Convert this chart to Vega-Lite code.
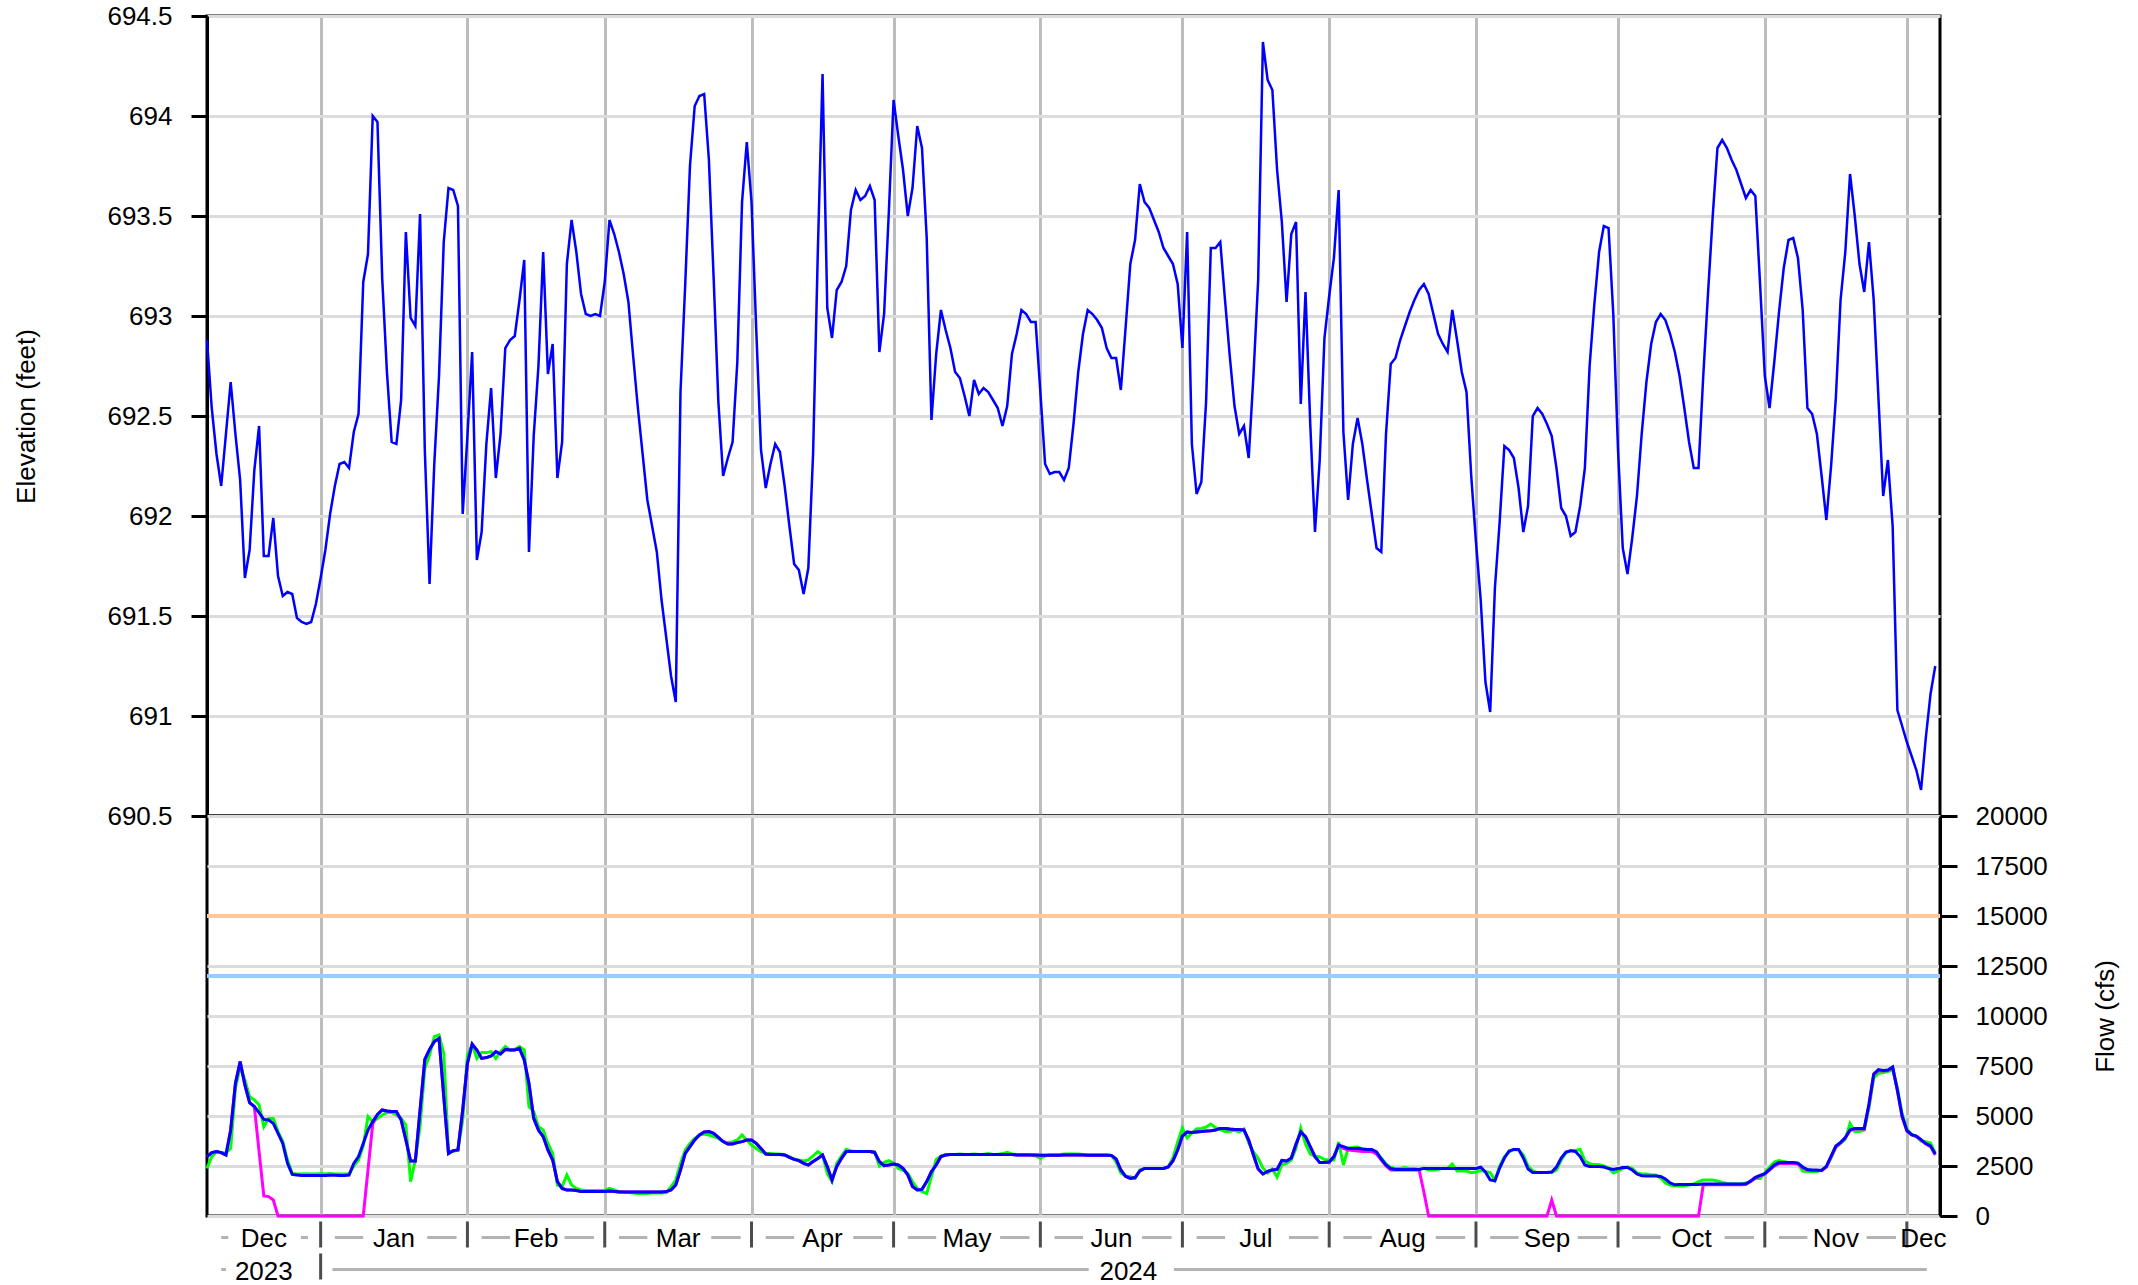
{
"$schema": "https://vega.github.io/schema/vega-lite/v6.json",
"background": "white",
"padding": {"left": 12, "top": 1, "right": 19, "bottom": 0},
"spacing": 0,
"bounds": "flush",
"config": {
  "font": "Liberation Sans",
  "view": {"stroke": "black", "strokeWidth": 3},
  "axis": {"labelFont": "Liberation Sans", "labelFontSize": 26, "labelColor": "black", "titleFont": "Liberation Sans", "titleFontSize": 26, "titleFontWeight": "normal", "titleColor": "black", "domainColor": "black", "tickColor": "black", "labelFlush": false, "labelOverlap": false, "labelBound": false}
},
"datasets": {
"limits": [{"k":"upper","v":15000},{"k":"lower","v":12000}],
"ticks": [
{"t":"2024-01-01","row":"month"},{"t":"2024-02-01","row":"month"},{"t":"2024-03-01","row":"month"},{"t":"2024-04-01","row":"month"},{"t":"2024-05-01","row":"month"},{"t":"2024-06-01","row":"month"},{"t":"2024-07-01","row":"month"},{"t":"2024-08-01","row":"month"},{"t":"2024-09-01","row":"month"},{"t":"2024-10-01","row":"month"},{"t":"2024-11-01","row":"month"},{"t":"2024-12-01","row":"month"},{"t":"2024-01-01","row":"year"}],
"labels": [
{"mid":"2023-12-20","m":"Dec","row":"month"},
{"mid":"2024-01-16T12:00:00Z","m":"Jan","row":"month"},
{"mid":"2024-02-15T12:00:00Z","m":"Feb","row":"month"},
{"mid":"2024-03-16T12:00:00Z","m":"Mar","row":"month"},
{"mid":"2024-04-16","m":"Apr","row":"month"},
{"mid":"2024-05-16T12:00:00Z","m":"May","row":"month"},
{"mid":"2024-06-16","m":"Jun","row":"month"},
{"mid":"2024-07-16T12:00:00Z","m":"Jul","row":"month"},
{"mid":"2024-08-16T12:00:00Z","m":"Aug","row":"month"},
{"mid":"2024-09-16","m":"Sep","row":"month"},
{"mid":"2024-10-16T12:00:00Z","m":"Oct","row":"month"},
{"mid":"2024-11-16","m":"Nov","row":"month"},
{"mid":"2024-12-04T12:00:00Z","m":"Dec","row":"month"},
{"mid":"2023-12-20","m":"2023","row":"year"},
{"mid":"2024-06-19T14:00:00Z","m":"2024","row":"year"}],
"dashes": [
{"a":"2023-12-11","b":"2023-12-12T12:00:00Z","row":"month"},
{"a":"2023-12-27T20:00:00Z","b":"2023-12-29T08:00:00Z","row":"month"},
{"a":"2024-01-04","b":"2024-01-10","row":"month"},{"a":"2024-01-23T12:00:00Z","b":"2024-01-29T17:00:00Z","row":"month"},
{"a":"2024-02-04","b":"2024-02-10","row":"month"},{"a":"2024-02-21T12:00:00Z","b":"2024-02-27T17:00:00Z","row":"month"},
{"a":"2024-03-04","b":"2024-03-10","row":"month"},{"a":"2024-03-23T12:00:00Z","b":"2024-03-29T17:00:00Z","row":"month"},
{"a":"2024-04-04","b":"2024-04-10","row":"month"},{"a":"2024-04-22T12:00:00Z","b":"2024-04-28T17:00:00Z","row":"month"},
{"a":"2024-05-04","b":"2024-05-10","row":"month"},{"a":"2024-05-23T12:00:00Z","b":"2024-05-29T17:00:00Z","row":"month"},
{"a":"2024-06-04","b":"2024-06-10","row":"month"},{"a":"2024-06-22T12:00:00Z","b":"2024-06-28T17:00:00Z","row":"month"},
{"a":"2024-07-04","b":"2024-07-10","row":"month"},{"a":"2024-07-23T12:00:00Z","b":"2024-07-29T17:00:00Z","row":"month"},
{"a":"2024-08-04","b":"2024-08-10","row":"month"},{"a":"2024-08-23T12:00:00Z","b":"2024-08-29T17:00:00Z","row":"month"},
{"a":"2024-09-04","b":"2024-09-10","row":"month"},{"a":"2024-09-22T12:00:00Z","b":"2024-09-28T17:00:00Z","row":"month"},
{"a":"2024-10-04","b":"2024-10-10","row":"month"},{"a":"2024-10-23T12:00:00Z","b":"2024-10-29T17:00:00Z","row":"month"},
{"a":"2024-11-04","b":"2024-11-10","row":"month"},{"a":"2024-11-22T12:00:00Z","b":"2024-11-28T17:00:00Z","row":"month"},
{"a":"2023-12-11","b":"2023-12-12","row":"year"},
{"a":"2024-01-03T12:00:00Z","b":"2024-06-11T05:00:00Z","row":"year"},
{"a":"2024-06-29T05:00:00Z","b":"2024-12-05T05:00:00Z","row":"year"}],
"main": [
{"t":"2023-12-08","e":692.88,"g":2380,"m":2970,"b":2970},
{"t":"2023-12-09","e":692.54,"g":2970,"m":3170,"b":3170},
{"t":"2023-12-10","e":692.31,"g":3220,"m":3220,"b":3220},
{"t":"2023-12-11","e":692.15,"g":3170,"m":3170,"b":3170},
{"t":"2023-12-12","e":692.41,"g":3150,"m":3050,"b":3050},
{"t":"2023-12-13","e":692.67,"g":3380,"m":4300,"b":4300},
{"t":"2023-12-14","e":692.41,"g":6380,"m":6630,"b":6630},
{"t":"2023-12-15","e":692.18,"g":7470,"m":7720,"b":7720},
{"t":"2023-12-16","e":691.69,"g":6800,"m":6550,"b":6550},
{"t":"2023-12-17","e":691.83,"g":5970,"m":5670,"b":5670},
{"t":"2023-12-18","e":692.23,"g":5800,"m":5470,"b":5470},
{"t":"2023-12-19","e":692.45,"g":5550,"m":3220,"b":5170},
{"t":"2023-12-20","e":691.80,"g":4470,"m":1000,"b":4830},
{"t":"2023-12-21","e":691.80,"g":4880,"m":970,"b":4800},
{"t":"2023-12-22","e":691.99,"g":4880,"m":800,"b":4630},
{"t":"2023-12-23","e":691.70,"g":4220,"m":0,"b":4130},
{"t":"2023-12-24","e":691.60,"g":3720,"m":0,"b":3630},
{"t":"2023-12-25","e":691.62,"g":2800,"m":0,"b":2630},
{"t":"2023-12-26","e":691.61,"g":2130,"m":0,"b":2080},
{"t":"2023-12-27","e":691.49,"g":2100,"m":0,"b":2050},
{"t":"2023-12-28","e":691.47,"g":2100,"m":0,"b":2030},
{"t":"2023-12-29","e":691.46,"g":2110,"m":0,"b":2020},
{"t":"2023-12-30","e":691.47,"g":2100,"m":0,"b":2020},
{"t":"2023-12-31","e":691.56,"g":2100,"m":0,"b":2030},
{"t":"2024-01-01","e":691.69,"g":2120,"m":0,"b":2030},
{"t":"2024-01-02","e":691.83,"g":2100,"m":0,"b":2030},
{"t":"2024-01-03","e":692.01,"g":2130,"m":0,"b":2040},
{"t":"2024-01-04","e":692.15,"g":2100,"m":0,"b":2040},
{"t":"2024-01-05","e":692.26,"g":2100,"m":0,"b":2030},
{"t":"2024-01-06","e":692.27,"g":2100,"m":0,"b":2030},
{"t":"2024-01-07","e":692.24,"g":2100,"m":0,"b":2050},
{"t":"2024-01-08","e":692.42,"g":2500,"m":0,"b":2630},
{"t":"2024-01-09","e":692.51,"g":2800,"m":0,"b":2970},
{"t":"2024-01-10","e":693.17,"g":3500,"m":0,"b":3630},
{"t":"2024-01-11","e":693.31,"g":4970,"m":2300,"b":4300},
{"t":"2024-01-12","e":694.00,"g":4720,"m":4600,"b":4720},
{"t":"2024-01-13","e":693.97,"g":4880,"m":5080,"b":5080},
{"t":"2024-01-14","e":693.19,"g":5050,"m":5300,"b":5300},
{"t":"2024-01-15","e":692.72,"g":5170,"m":5250,"b":5250},
{"t":"2024-01-16","e":692.37,"g":5170,"m":5220,"b":5220},
{"t":"2024-01-17","e":692.36,"g":5050,"m":5220,"b":5220},
{"t":"2024-01-18","e":692.58,"g":4880,"m":4800,"b":4800},
{"t":"2024-01-19","e":693.42,"g":4550,"m":3800,"b":3800},
{"t":"2024-01-20","e":692.99,"g":1720,"m":2750,"b":2750},
{"t":"2024-01-21","e":692.95,"g":2800,"m":2750,"b":2750},
{"t":"2024-01-22","e":693.51,"g":4500,"m":5300,"b":5300},
{"t":"2024-01-23","e":692.33,"g":7380,"m":7830,"b":7830},
{"t":"2024-01-24","e":691.66,"g":8050,"m":8330,"b":8330},
{"t":"2024-01-25","e":692.26,"g":8970,"m":8720,"b":8720},
{"t":"2024-01-26","e":692.70,"g":9050,"m":8880,"b":8880},
{"t":"2024-01-27","e":693.37,"g":8130,"m":5970,"b":5970},
{"t":"2024-01-28","e":693.64,"g":3220,"m":3130,"b":3130},
{"t":"2024-01-29","e":693.63,"g":3220,"m":3270,"b":3270},
{"t":"2024-01-30","e":693.55,"g":3300,"m":3300,"b":3300},
{"t":"2024-01-31","e":692.01,"g":4800,"m":5300,"b":5300},
{"t":"2024-02-01","e":692.40,"g":8050,"m":7630,"b":7630},
{"t":"2024-02-02","e":692.82,"g":8550,"m":8600,"b":8600},
{"t":"2024-02-03","e":691.78,"g":7880,"m":8300,"b":8300},
{"t":"2024-02-04","e":691.92,"g":8170,"m":7880,"b":7880},
{"t":"2024-02-05","e":692.36,"g":8170,"m":7920,"b":7920},
{"t":"2024-02-06","e":692.64,"g":8220,"m":8000,"b":8000},
{"t":"2024-02-07","e":692.19,"g":7880,"m":8220,"b":8220},
{"t":"2024-02-08","e":692.41,"g":8220,"m":8100,"b":8100},
{"t":"2024-02-09","e":692.84,"g":8470,"m":8330,"b":8330},
{"t":"2024-02-10","e":692.88,"g":8300,"m":8300,"b":8300},
{"t":"2024-02-11","e":692.90,"g":8330,"m":8300,"b":8300},
{"t":"2024-02-12","e":693.08,"g":8470,"m":8380,"b":8380},
{"t":"2024-02-13","e":693.28,"g":8300,"m":7800,"b":7800},
{"t":"2024-02-14","e":691.82,"g":5470,"m":6630,"b":6630},
{"t":"2024-02-15","e":692.40,"g":5220,"m":4880,"b":4880},
{"t":"2024-02-16","e":692.75,"g":4470,"m":4300,"b":4300},
{"t":"2024-02-17","e":693.32,"g":4300,"m":3970,"b":3970},
{"t":"2024-02-18","e":692.71,"g":3630,"m":3300,"b":3300},
{"t":"2024-02-19","e":692.86,"g":3130,"m":2800,"b":2800},
{"t":"2024-02-20","e":692.19,"g":1550,"m":1720,"b":1720},
{"t":"2024-02-21","e":692.37,"g":1470,"m":1380,"b":1380},
{"t":"2024-02-22","e":693.26,"g":2050,"m":1300,"b":1300},
{"t":"2024-02-23","e":693.48,"g":1550,"m":1300,"b":1300},
{"t":"2024-02-24","e":693.32,"g":1380,"m":1270,"b":1270},
{"t":"2024-02-25","e":693.11,"g":1300,"m":1220,"b":1220},
{"t":"2024-02-26","e":693.01,"g":1280,"m":1220,"b":1220},
{"t":"2024-02-27","e":693.00,"g":1280,"m":1220,"b":1220},
{"t":"2024-02-28","e":693.01,"g":1280,"m":1220,"b":1220},
{"t":"2024-02-29","e":693.00,"g":1280,"m":1220,"b":1220},
{"t":"2024-03-01","e":693.17,"g":1280,"m":1220,"b":1220},
{"t":"2024-03-02","e":693.48,"g":1380,"m":1250,"b":1250},
{"t":"2024-03-03","e":693.41,"g":1300,"m":1220,"b":1220},
{"t":"2024-03-04","e":693.32,"g":1220,"m":1200,"b":1200},
{"t":"2024-03-05","e":693.21,"g":1200,"m":1200,"b":1200},
{"t":"2024-03-06","e":693.07,"g":1170,"m":1200,"b":1200},
{"t":"2024-03-07","e":692.80,"g":1150,"m":1200,"b":1200},
{"t":"2024-03-08","e":692.54,"g":1130,"m":1200,"b":1200},
{"t":"2024-03-09","e":692.31,"g":1130,"m":1200,"b":1200},
{"t":"2024-03-10","e":692.08,"g":1130,"m":1200,"b":1200},
{"t":"2024-03-11","e":691.95,"g":1150,"m":1200,"b":1200},
{"t":"2024-03-12","e":691.82,"g":1150,"m":1200,"b":1200},
{"t":"2024-03-13","e":691.58,"g":1150,"m":1200,"b":1200},
{"t":"2024-03-14","e":691.39,"g":1170,"m":1220,"b":1220},
{"t":"2024-03-15","e":691.20,"g":1470,"m":1300,"b":1300},
{"t":"2024-03-16","e":691.07,"g":1800,"m":1550,"b":1550},
{"t":"2024-03-17","e":692.62,"g":2630,"m":2300,"b":2300},
{"t":"2024-03-18","e":693.16,"g":3300,"m":3130,"b":3130},
{"t":"2024-03-19","e":693.75,"g":3630,"m":3470,"b":3470},
{"t":"2024-03-20","e":694.05,"g":3880,"m":3800,"b":3800},
{"t":"2024-03-21","e":694.10,"g":4050,"m":4050,"b":4050},
{"t":"2024-03-22","e":694.11,"g":4100,"m":4200,"b":4200},
{"t":"2024-03-23","e":693.78,"g":4050,"m":4220,"b":4220},
{"t":"2024-03-24","e":693.19,"g":3970,"m":4130,"b":4130},
{"t":"2024-03-25","e":692.57,"g":3880,"m":3930,"b":3930},
{"t":"2024-03-26","e":692.20,"g":3720,"m":3720,"b":3720},
{"t":"2024-03-27","e":692.29,"g":3670,"m":3600,"b":3600},
{"t":"2024-03-28","e":692.37,"g":3700,"m":3600,"b":3600},
{"t":"2024-03-29","e":692.77,"g":3800,"m":3670,"b":3670},
{"t":"2024-03-30","e":693.57,"g":4050,"m":3720,"b":3720},
{"t":"2024-03-31","e":693.87,"g":3800,"m":3800,"b":3800},
{"t":"2024-04-01","e":693.57,"g":3550,"m":3800,"b":3800},
{"t":"2024-04-02","e":692.93,"g":3380,"m":3630,"b":3630},
{"t":"2024-04-03","e":692.33,"g":3220,"m":3380,"b":3380},
{"t":"2024-04-04","e":692.14,"g":3130,"m":3100,"b":3100},
{"t":"2024-04-05","e":692.26,"g":3130,"m":3080,"b":3080},
{"t":"2024-04-06","e":692.36,"g":3100,"m":3080,"b":3080},
{"t":"2024-04-07","e":692.32,"g":3100,"m":3080,"b":3080},
{"t":"2024-04-08","e":692.15,"g":3050,"m":3050,"b":3050},
{"t":"2024-04-09","e":691.95,"g":2970,"m":2930,"b":2930},
{"t":"2024-04-10","e":691.76,"g":2850,"m":2830,"b":2830},
{"t":"2024-04-11","e":691.73,"g":2800,"m":2770,"b":2770},
{"t":"2024-04-12","e":691.61,"g":2750,"m":2630,"b":2630},
{"t":"2024-04-13","e":691.74,"g":2800,"m":2550,"b":2550},
{"t":"2024-04-14","e":692.31,"g":3000,"m":2720,"b":2720},
{"t":"2024-04-15","e":693.32,"g":3220,"m":2880,"b":2880},
{"t":"2024-04-16","e":694.21,"g":3050,"m":3050,"b":3050},
{"t":"2024-04-17","e":693.04,"g":2130,"m":2470,"b":2470},
{"t":"2024-04-18","e":692.89,"g":1720,"m":1800,"b":1800},
{"t":"2024-04-19","e":693.13,"g":2630,"m":2470,"b":2470},
{"t":"2024-04-20","e":693.17,"g":3000,"m":2880,"b":2880},
{"t":"2024-04-21","e":693.25,"g":3330,"m":3220,"b":3220},
{"t":"2024-04-22","e":693.53,"g":3250,"m":3220,"b":3220},
{"t":"2024-04-23","e":693.63,"g":3220,"m":3220,"b":3220},
{"t":"2024-04-24","e":693.58,"g":3220,"m":3220,"b":3220},
{"t":"2024-04-25","e":693.60,"g":3220,"m":3220,"b":3220},
{"t":"2024-04-26","e":693.65,"g":3220,"m":3220,"b":3220},
{"t":"2024-04-27","e":693.58,"g":3200,"m":3180,"b":3180},
{"t":"2024-04-28","e":692.82,"g":2500,"m":2720,"b":2720},
{"t":"2024-04-29","e":693.01,"g":2680,"m":2520,"b":2520},
{"t":"2024-04-30","e":693.52,"g":2770,"m":2550,"b":2550},
{"t":"2024-05-01","e":694.08,"g":2650,"m":2600,"b":2600},
{"t":"2024-05-02","e":693.90,"g":2380,"m":2550,"b":2550},
{"t":"2024-05-03","e":693.73,"g":2300,"m":2380,"b":2380},
{"t":"2024-05-04","e":693.50,"g":2130,"m":2050,"b":2050},
{"t":"2024-05-05","e":693.64,"g":1720,"m":1470,"b":1470},
{"t":"2024-05-06","e":693.95,"g":1380,"m":1300,"b":1300},
{"t":"2024-05-07","e":693.84,"g":1220,"m":1330,"b":1330},
{"t":"2024-05-08","e":693.39,"g":1130,"m":1720,"b":1720},
{"t":"2024-05-09","e":692.48,"g":1970,"m":2220,"b":2220},
{"t":"2024-05-10","e":692.81,"g":2830,"m":2550,"b":2550},
{"t":"2024-05-11","e":693.03,"g":3000,"m":2970,"b":2970},
{"t":"2024-05-12","e":692.93,"g":3080,"m":3050,"b":3050},
{"t":"2024-05-13","e":692.84,"g":3080,"m":3070,"b":3070},
{"t":"2024-05-14","e":692.72,"g":3080,"m":3070,"b":3070},
{"t":"2024-05-15","e":692.69,"g":3100,"m":3070,"b":3070},
{"t":"2024-05-16","e":692.60,"g":3080,"m":3070,"b":3070},
{"t":"2024-05-17","e":692.50,"g":3080,"m":3070,"b":3070},
{"t":"2024-05-18","e":692.68,"g":3100,"m":3070,"b":3070},
{"t":"2024-05-19","e":692.61,"g":3080,"m":3070,"b":3070},
{"t":"2024-05-20","e":692.64,"g":3080,"m":3070,"b":3070},
{"t":"2024-05-21","e":692.62,"g":3120,"m":3070,"b":3070},
{"t":"2024-05-22","e":692.58,"g":3080,"m":3070,"b":3070},
{"t":"2024-05-23","e":692.54,"g":3080,"m":3070,"b":3070},
{"t":"2024-05-24","e":692.45,"g":3120,"m":3070,"b":3070},
{"t":"2024-05-25","e":692.55,"g":3180,"m":3080,"b":3080},
{"t":"2024-05-26","e":692.81,"g":3100,"m":3070,"b":3070},
{"t":"2024-05-27","e":692.91,"g":3080,"m":3050,"b":3050},
{"t":"2024-05-28","e":693.03,"g":3080,"m":3050,"b":3050},
{"t":"2024-05-29","e":693.01,"g":3080,"m":3050,"b":3050},
{"t":"2024-05-30","e":692.97,"g":3050,"m":3050,"b":3050},
{"t":"2024-05-31","e":692.97,"g":3000,"m":3050,"b":3050},
{"t":"2024-06-01","e":692.62,"g":2880,"m":3040,"b":3040},
{"t":"2024-06-02","e":692.26,"g":3000,"m":3040,"b":3040},
{"t":"2024-06-03","e":692.21,"g":3060,"m":3040,"b":3040},
{"t":"2024-06-04","e":692.22,"g":3060,"m":3040,"b":3040},
{"t":"2024-06-05","e":692.22,"g":3060,"m":3040,"b":3040},
{"t":"2024-06-06","e":692.18,"g":3100,"m":3050,"b":3050},
{"t":"2024-06-07","e":692.24,"g":3100,"m":3050,"b":3050},
{"t":"2024-06-08","e":692.46,"g":3100,"m":3050,"b":3050},
{"t":"2024-06-09","e":692.72,"g":3100,"m":3050,"b":3050},
{"t":"2024-06-10","e":692.91,"g":3080,"m":3050,"b":3050},
{"t":"2024-06-11","e":693.03,"g":3060,"m":3040,"b":3040},
{"t":"2024-06-12","e":693.01,"g":3060,"m":3040,"b":3040},
{"t":"2024-06-13","e":692.98,"g":3060,"m":3040,"b":3040},
{"t":"2024-06-14","e":692.94,"g":3060,"m":3040,"b":3040},
{"t":"2024-06-15","e":692.84,"g":3060,"m":3040,"b":3040},
{"t":"2024-06-16","e":692.79,"g":3030,"m":3030,"b":3030},
{"t":"2024-06-17","e":692.79,"g":2700,"m":2850,"b":2850},
{"t":"2024-06-18","e":692.63,"g":2150,"m":2300,"b":2300},
{"t":"2024-06-19","e":692.94,"g":2000,"m":1980,"b":1980},
{"t":"2024-06-20","e":693.26,"g":1960,"m":1880,"b":1880},
{"t":"2024-06-21","e":693.38,"g":1880,"m":1920,"b":1920},
{"t":"2024-06-22","e":693.66,"g":2300,"m":2250,"b":2250},
{"t":"2024-06-23","e":693.57,"g":2380,"m":2380,"b":2380},
{"t":"2024-06-24","e":693.54,"g":2380,"m":2380,"b":2380},
{"t":"2024-06-25","e":693.48,"g":2380,"m":2380,"b":2380},
{"t":"2024-06-26","e":693.42,"g":2380,"m":2380,"b":2380},
{"t":"2024-06-27","e":693.34,"g":2380,"m":2380,"b":2380},
{"t":"2024-06-28","e":693.30,"g":2450,"m":2450,"b":2450},
{"t":"2024-06-29","e":693.26,"g":2900,"m":2750,"b":2750},
{"t":"2024-06-30","e":693.16,"g":3700,"m":3300,"b":3300},
{"t":"2024-07-01","e":692.84,"g":4400,"m":4000,"b":4000},
{"t":"2024-07-02","e":693.42,"g":3900,"m":4200,"b":4200},
{"t":"2024-07-03","e":692.36,"g":4150,"m":4170,"b":4170},
{"t":"2024-07-04","e":692.11,"g":4350,"m":4200,"b":4200},
{"t":"2024-07-05","e":692.17,"g":4380,"m":4220,"b":4220},
{"t":"2024-07-06","e":692.57,"g":4450,"m":4250,"b":4250},
{"t":"2024-07-07","e":693.34,"g":4600,"m":4260,"b":4260},
{"t":"2024-07-08","e":693.34,"g":4420,"m":4300,"b":4300},
{"t":"2024-07-09","e":693.37,"g":4320,"m":4380,"b":4380},
{"t":"2024-07-10","e":693.08,"g":4230,"m":4380,"b":4380},
{"t":"2024-07-11","e":692.80,"g":4220,"m":4350,"b":4350},
{"t":"2024-07-12","e":692.55,"g":4300,"m":4330,"b":4330},
{"t":"2024-07-13","e":692.41,"g":4200,"m":4330,"b":4330},
{"t":"2024-07-14","e":692.45,"g":4350,"m":4300,"b":4300},
{"t":"2024-07-15","e":692.29,"g":3650,"m":3800,"b":3800},
{"t":"2024-07-16","e":692.70,"g":3200,"m":3050,"b":3050},
{"t":"2024-07-17","e":693.18,"g":2880,"m":2350,"b":2350},
{"t":"2024-07-18","e":694.37,"g":2400,"m":2100,"b":2100},
{"t":"2024-07-19","e":694.18,"g":2150,"m":2230,"b":2230},
{"t":"2024-07-20","e":694.13,"g":2350,"m":2300,"b":2300},
{"t":"2024-07-21","e":693.73,"g":1950,"m":2330,"b":2330},
{"t":"2024-07-22","e":693.47,"g":2560,"m":2780,"b":2780},
{"t":"2024-07-23","e":693.07,"g":2630,"m":2750,"b":2750},
{"t":"2024-07-24","e":693.41,"g":2800,"m":2900,"b":2900},
{"t":"2024-07-25","e":693.47,"g":3400,"m":3600,"b":3600},
{"t":"2024-07-26","e":692.56,"g":4400,"m":4200,"b":4200},
{"t":"2024-07-27","e":693.12,"g":3600,"m":3970,"b":3970},
{"t":"2024-07-28","e":692.46,"g":3100,"m":3470,"b":3470},
{"t":"2024-07-29","e":691.92,"g":3000,"m":2970,"b":2970},
{"t":"2024-07-30","e":692.28,"g":2950,"m":2670,"b":2670},
{"t":"2024-07-31","e":692.89,"g":2820,"m":2670,"b":2670},
{"t":"2024-08-01","e":693.10,"g":2800,"m":2700,"b":2700},
{"t":"2024-08-02","e":693.29,"g":2800,"m":2970,"b":2970},
{"t":"2024-08-03","e":693.63,"g":3700,"m":3550,"b":3550},
{"t":"2024-08-04","e":692.42,"g":2550,"m":3380,"b":3470},
{"t":"2024-08-05","e":692.08,"g":3400,"m":3300,"b":3380},
{"t":"2024-08-06","e":692.36,"g":3420,"m":3270,"b":3380},
{"t":"2024-08-07","e":692.49,"g":3450,"m":3250,"b":3380},
{"t":"2024-08-08","e":692.36,"g":3350,"m":3230,"b":3350},
{"t":"2024-08-09","e":692.18,"g":3330,"m":3220,"b":3330},
{"t":"2024-08-10","e":692.01,"g":3300,"m":3220,"b":3330},
{"t":"2024-08-11","e":691.84,"g":3150,"m":3100,"b":3200},
{"t":"2024-08-12","e":691.82,"g":2900,"m":2800,"b":2850},
{"t":"2024-08-13","e":692.41,"g":2600,"m":2500,"b":2550},
{"t":"2024-08-14","e":692.76,"g":2420,"m":2300,"b":2370},
{"t":"2024-08-15","e":692.79,"g":2380,"m":2300,"b":2330},
{"t":"2024-08-16","e":692.88,"g":2380,"m":2300,"b":2330},
{"t":"2024-08-17","e":692.95,"g":2420,"m":2300,"b":2330},
{"t":"2024-08-18","e":693.02,"g":2380,"m":2300,"b":2330},
{"t":"2024-08-19","e":693.08,"g":2380,"m":2300,"b":2330},
{"t":"2024-08-20","e":693.13,"g":2330,"m":2300,"b":2330},
{"t":"2024-08-21","e":693.16,"g":2400,"m":1200,"b":2380},
{"t":"2024-08-22","e":693.11,"g":2300,"m":0,"b":2380},
{"t":"2024-08-23","e":693.01,"g":2300,"m":0,"b":2380},
{"t":"2024-08-24","e":692.91,"g":2330,"m":0,"b":2380},
{"t":"2024-08-25","e":692.86,"g":2380,"m":0,"b":2380},
{"t":"2024-08-26","e":692.82,"g":2380,"m":0,"b":2380},
{"t":"2024-08-27","e":693.03,"g":2600,"m":0,"b":2380},
{"t":"2024-08-28","e":692.88,"g":2250,"m":0,"b":2380},
{"t":"2024-08-29","e":692.72,"g":2250,"m":0,"b":2380},
{"t":"2024-08-30","e":692.62,"g":2250,"m":0,"b":2380},
{"t":"2024-08-31","e":692.20,"g":2170,"m":0,"b":2380},
{"t":"2024-09-01","e":691.87,"g":2200,"m":0,"b":2380},
{"t":"2024-09-02","e":691.58,"g":2270,"m":0,"b":2440},
{"t":"2024-09-03","e":691.17,"g":2220,"m":0,"b":2200},
{"t":"2024-09-04","e":691.02,"g":2170,"m":0,"b":1800},
{"t":"2024-09-05","e":691.64,"g":1800,"m":0,"b":1760},
{"t":"2024-09-06","e":691.97,"g":2500,"m":0,"b":2400},
{"t":"2024-09-07","e":692.35,"g":2950,"m":0,"b":2900},
{"t":"2024-09-08","e":692.33,"g":3200,"m":0,"b":3250},
{"t":"2024-09-09","e":692.29,"g":3330,"m":0,"b":3330},
{"t":"2024-09-10","e":692.14,"g":3300,"m":0,"b":3330},
{"t":"2024-09-11","e":691.92,"g":3050,"m":0,"b":2900},
{"t":"2024-09-12","e":692.05,"g":2500,"m":0,"b":2350},
{"t":"2024-09-13","e":692.50,"g":2250,"m":0,"b":2180},
{"t":"2024-09-14","e":692.54,"g":2170,"m":0,"b":2170},
{"t":"2024-09-15","e":692.51,"g":2170,"m":0,"b":2170},
{"t":"2024-09-16","e":692.46,"g":2170,"m":0,"b":2170},
{"t":"2024-09-17","e":692.40,"g":2170,"m":800,"b":2200},
{"t":"2024-09-18","e":692.24,"g":2300,"m":0,"b":2450},
{"t":"2024-09-19","e":692.04,"g":2800,"m":0,"b":2900},
{"t":"2024-09-20","e":692.00,"g":3150,"m":0,"b":3200},
{"t":"2024-09-21","e":691.90,"g":3280,"m":0,"b":3260},
{"t":"2024-09-22","e":691.92,"g":3280,"m":0,"b":3230},
{"t":"2024-09-23","e":692.05,"g":3330,"m":0,"b":2970},
{"t":"2024-09-24","e":692.24,"g":2750,"m":0,"b":2550},
{"t":"2024-09-25","e":692.75,"g":2620,"m":0,"b":2470},
{"t":"2024-09-26","e":693.06,"g":2570,"m":0,"b":2470},
{"t":"2024-09-27","e":693.32,"g":2560,"m":0,"b":2470},
{"t":"2024-09-28","e":693.45,"g":2500,"m":0,"b":2450},
{"t":"2024-09-29","e":693.44,"g":2400,"m":0,"b":2370},
{"t":"2024-09-30","e":693.01,"g":2150,"m":0,"b":2330},
{"t":"2024-10-01","e":692.33,"g":2250,"m":0,"b":2370},
{"t":"2024-10-02","e":691.84,"g":2380,"m":0,"b":2420},
{"t":"2024-10-03","e":691.71,"g":2450,"m":0,"b":2430},
{"t":"2024-10-04","e":691.89,"g":2380,"m":0,"b":2300},
{"t":"2024-10-05","e":692.10,"g":2150,"m":0,"b":2100},
{"t":"2024-10-06","e":692.41,"g":2100,"m":0,"b":2010},
{"t":"2024-10-07","e":692.67,"g":2100,"m":0,"b":2000},
{"t":"2024-10-08","e":692.86,"g":2050,"m":0,"b":2000},
{"t":"2024-10-09","e":692.97,"g":2050,"m":0,"b":2000},
{"t":"2024-10-10","e":693.01,"g":1900,"m":0,"b":1980},
{"t":"2024-10-11","e":692.98,"g":1650,"m":0,"b":1850},
{"t":"2024-10-12","e":692.91,"g":1550,"m":0,"b":1650},
{"t":"2024-10-13","e":692.82,"g":1500,"m":0,"b":1560},
{"t":"2024-10-14","e":692.70,"g":1500,"m":0,"b":1570},
{"t":"2024-10-15","e":692.54,"g":1500,"m":0,"b":1570},
{"t":"2024-10-16","e":692.37,"g":1550,"m":0,"b":1570},
{"t":"2024-10-17","e":692.24,"g":1600,"m":0,"b":1580},
{"t":"2024-10-18","e":692.24,"g":1720,"m":0,"b":1580},
{"t":"2024-10-19","e":692.70,"g":1800,"m":1550,"b":1600},
{"t":"2024-10-20","e":693.11,"g":1800,"m":1560,"b":1600},
{"t":"2024-10-21","e":693.50,"g":1800,"m":1560,"b":1600},
{"t":"2024-10-22","e":693.84,"g":1750,"m":1560,"b":1600},
{"t":"2024-10-23","e":693.88,"g":1680,"m":1560,"b":1600},
{"t":"2024-10-24","e":693.84,"g":1630,"m":1560,"b":1600},
{"t":"2024-10-25","e":693.78,"g":1600,"m":1560,"b":1600},
{"t":"2024-10-26","e":693.73,"g":1600,"m":1560,"b":1600},
{"t":"2024-10-27","e":693.66,"g":1600,"m":1560,"b":1600},
{"t":"2024-10-28","e":693.59,"g":1650,"m":1580,"b":1600},
{"t":"2024-10-29","e":693.63,"g":1720,"m":1720,"b":1750},
{"t":"2024-10-30","e":693.60,"g":1880,"m":1900,"b":1930},
{"t":"2024-10-31","e":693.16,"g":1880,"m":2000,"b":2030},
{"t":"2024-11-01","e":692.70,"g":2130,"m":2100,"b":2120},
{"t":"2024-11-02","e":692.54,"g":2450,"m":2300,"b":2330},
{"t":"2024-11-03","e":692.77,"g":2700,"m":2500,"b":2550},
{"t":"2024-11-04","e":693.02,"g":2770,"m":2620,"b":2670},
{"t":"2024-11-05","e":693.24,"g":2720,"m":2630,"b":2680},
{"t":"2024-11-06","e":693.38,"g":2680,"m":2630,"b":2670},
{"t":"2024-11-07","e":693.39,"g":2670,"m":2620,"b":2670},
{"t":"2024-11-08","e":693.29,"g":2630,"m":2600,"b":2640},
{"t":"2024-11-09","e":693.03,"g":2250,"m":2420,"b":2450},
{"t":"2024-11-10","e":692.54,"g":2220,"m":2300,"b":2320},
{"t":"2024-11-11","e":692.51,"g":2220,"m":2280,"b":2300},
{"t":"2024-11-12","e":692.41,"g":2220,"m":2280,"b":2300},
{"t":"2024-11-13","e":692.20,"g":2300,"m":2260,"b":2280},
{"t":"2024-11-14","e":691.98,"g":2470,"m":2450,"b":2480},
{"t":"2024-11-15","e":692.25,"g":2900,"m":2950,"b":3000},
{"t":"2024-11-16","e":692.59,"g":3450,"m":3450,"b":3500},
{"t":"2024-11-17","e":693.08,"g":3630,"m":3650,"b":3680},
{"t":"2024-11-18","e":693.32,"g":3830,"m":3900,"b":3920},
{"t":"2024-11-19","e":693.71,"g":4630,"m":4280,"b":4300},
{"t":"2024-11-20","e":693.50,"g":4220,"m":4350,"b":4380},
{"t":"2024-11-21","e":693.26,"g":4220,"m":4350,"b":4380},
{"t":"2024-11-22","e":693.12,"g":4300,"m":4350,"b":4380},
{"t":"2024-11-23","e":693.37,"g":5400,"m":5550,"b":5600},
{"t":"2024-11-24","e":693.08,"g":6900,"m":7050,"b":7100},
{"t":"2024-11-25","e":692.59,"g":7130,"m":7280,"b":7320},
{"t":"2024-11-26","e":692.10,"g":7170,"m":7250,"b":7280},
{"t":"2024-11-27","e":692.28,"g":7220,"m":7270,"b":7300},
{"t":"2024-11-28","e":691.95,"g":7300,"m":7420,"b":7450},
{"t":"2024-11-29","e":691.03,"g":6400,"m":6250,"b":6300},
{"t":"2024-11-30","e":690.95,"g":5100,"m":4950,"b":5000},
{"t":"2024-12-01","e":690.87,"g":4350,"m":4250,"b":4280},
{"t":"2024-12-02","e":690.80,"g":4080,"m":4050,"b":4070},
{"t":"2024-12-03","e":690.73,"g":3980,"m":3970,"b":4000},
{"t":"2024-12-04","e":690.63,"g":3750,"m":3800,"b":3820},
{"t":"2024-12-05","e":690.89,"g":3720,"m":3600,"b":3620},
{"t":"2024-12-06","e":691.11,"g":3650,"m":3470,"b":3500},
{"t":"2024-12-07","e":691.25,"g":3150,"m":3050,"b":3100}
]
},
"vconcat": [
{
  "width": 1733, "height": 800,
  "data": {"name": "main"},
  "mark": {"type": "line", "color": "#0000ff", "strokeWidth": 2.5},
  "encoding": {
    "x": {"field": "t", "type": "temporal",
      "scale": {"type": "utc", "domain": [{"year": 2023, "month": 12, "date": 8, "utc": true}, {"year": 2024, "month": 12, "date": 8, "utc": true}]},
      "axis": {"grid": true, "gridColor": "#bdbdbd", "gridWidth": 3, "labels": false, "ticks": false, "domain": false, "title": null, "tickCount": {"interval": "month", "step": 1}}},
    "y": {"field": "e", "type": "quantitative",
      "scale": {"domain": [690.5, 694.5], "nice": false, "zero": false},
      "axis": {"title": "Elevation (feet)", "values": [690.5, 691, 691.5, 692, 692.5, 693, 693.5, 694, 694.5], "format": "~g", "grid": true, "gridColor": "#dcdcdc", "gridWidth": 3, "tickSize": 16, "tickWidth": 3, "labelPadding": 19, "domainWidth": 3, "titlePadding": 67}}
  }
},
{
  "width": 1733, "height": 400,
  "layer": [
    {
      "data": {"name": "limits"},
      "mark": {"type": "rule", "strokeWidth": 4},
      "encoding": {
        "y": {"field": "v", "type": "quantitative", "scale": {"domain": [0, 20000], "nice": false},
          "axis": {"orient": "right", "title": "Flow (cfs)", "values": [0, 2500, 5000, 7500, 10000, 12500, 15000, 17500, 20000], "format": "d", "grid": true, "gridColor": "#dcdcdc", "gridWidth": 3, "tickSize": 17, "tickWidth": 3, "labelPadding": 18, "domainWidth": 3, "titleAngle": 270, "titleBaseline": "top", "titlePadding": 45}},
        "color": {"field": "k", "type": "nominal", "scale": {"domain": ["upper", "lower"], "range": ["#ffc896", "#99ccff"]}, "legend": null}
      }
    },
    {
      "data": {"name": "main"},
      "transform": [{"fold": ["g", "m", "b"], "as": ["series", "flow"]}],
      "mark": {"type": "line", "strokeWidth": 3},
      "encoding": {
        "x": {"field": "t", "type": "temporal",
          "scale": {"type": "utc", "domain": [{"year": 2023, "month": 12, "date": 8, "utc": true}, {"year": 2024, "month": 12, "date": 8, "utc": true}]},
          "axis": {"grid": true, "gridColor": "#bdbdbd", "gridWidth": 3, "labels": false, "ticks": false, "domain": false, "title": null, "tickCount": {"interval": "month", "step": 1}}},
        "y": {"field": "flow", "type": "quantitative", "scale": {"domain": [0, 20000], "nice": false},
          "axis": {"orient": "right", "title": "Flow (cfs)", "values": [0, 2500, 5000, 7500, 10000, 12500, 15000, 17500, 20000], "format": "d", "grid": true, "gridColor": "#dcdcdc", "gridWidth": 3, "tickSize": 17, "tickWidth": 3, "labelPadding": 18, "domainWidth": 3, "titleAngle": 270, "titleBaseline": "top", "titlePadding": 45}},
        "color": {"field": "series", "type": "nominal", "scale": {"domain": ["g", "m", "b"], "range": ["#00ff00", "#ff00ff", "#0000ff"]}, "legend": null}
      }
    }
  ],
  "resolve": {"scale": {"color": "independent"}}
},
{
  "width": 1733, "height": 69,
  "view": {"stroke": null},
  "layer": [
    {
      "data": {"name": "dashes"},
      "mark": {"type": "rule", "color": "#b3b3b3", "strokeWidth": 3, "yOffset": 3},
      "encoding": {
        "x": {"field": "a", "type": "temporal", "scale": {"type": "utc", "domain": [{"year": 2023, "month": 12, "date": 8, "utc": true}, {"year": 2024, "month": 12, "date": 8, "utc": true}]}, "axis": null},
        "x2": {"field": "b"},
        "y": {"field": "row", "type": "nominal", "scale": {"type": "point", "domain": ["month", "year"], "padding": 0.578}, "axis": null}
      }
    },
    {
      "data": {"name": "ticks"},
      "mark": {"type": "tick", "color": "black", "size": 26, "thickness": 3},
      "encoding": {
        "x": {"field": "t", "type": "temporal", "scale": {"type": "utc", "domain": [{"year": 2023, "month": 12, "date": 8, "utc": true}, {"year": 2024, "month": 12, "date": 8, "utc": true}]}, "axis": null},
        "y": {"field": "row", "type": "nominal", "scale": {"type": "point", "domain": ["month", "year"], "padding": 0.578}, "axis": null}
      }
    },
    {
      "data": {"name": "labels"},
      "mark": {"type": "text", "fontSize": 26, "dy": 5, "baseline": "middle", "align": "center", "color": "black", "font": "Liberation Sans"},
      "encoding": {
        "x": {"field": "mid", "type": "temporal", "scale": {"type": "utc", "domain": [{"year": 2023, "month": 12, "date": 8, "utc": true}, {"year": 2024, "month": 12, "date": 8, "utc": true}]}, "axis": null},
        "y": {"field": "row", "type": "nominal", "scale": {"type": "point", "domain": ["month", "year"], "padding": 0.578}, "axis": null},
        "text": {"field": "m"}
      }
    }
  ]
}
]
}
